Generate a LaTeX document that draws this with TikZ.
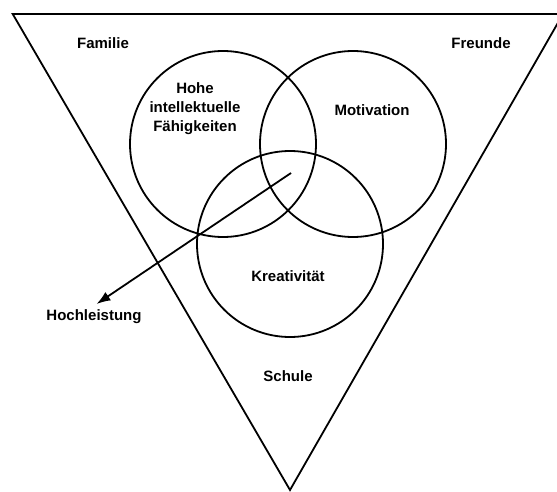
\documentclass[tikz,border=0pt]{standalone}
\usepackage{fontspec}
\setmainfont{Liberation Sans}
\usepackage{tikz}
\usetikzlibrary{arrows.meta}

\begin{document}
\begin{tikzpicture}[x=1pt, y=1pt, line width=1.8pt,
    ring/.style={shape=circle, draw, inner sep=0pt, minimum size=186pt},
    lbl/.style={font=\bfseries\fontsize{15}{19}\selectfont, align=center}]

                \useasboundingbox (0,0) rectangle (557,491);

                % umgebung
                \draw (12.7,477) -- (563,477) -- (290,1) -- cycle;

                \node[ring] (I) at (223,347) {};
                \node[ring] (M) at (353,347) {};
                \node[ring] (K) at (290,247) {};

                \node[lbl] (fam) at (103,448) {Familie};
                \node[lbl] (fre) at (481,448) {Freunde};
                \node[lbl] (intel) at (195,382) {Hohe\\intellektuelle\\Fähigkeiten};
                \node[lbl] (motiv) at (372,381) {Motivation};
                \node[lbl] (krea) at (288,215) {Kreativität};
                \node[lbl] (schule) at (288,115) {Schule};
                \node[lbl] (hoch) at (94,174) {Hochleistung};

                \coordinate (core) at (291,318);
                \draw[-{Latex[length=14pt,width=10pt]}, shorten >=3pt] (core) -- (hoch.north);

\end{tikzpicture}
\end{document}
